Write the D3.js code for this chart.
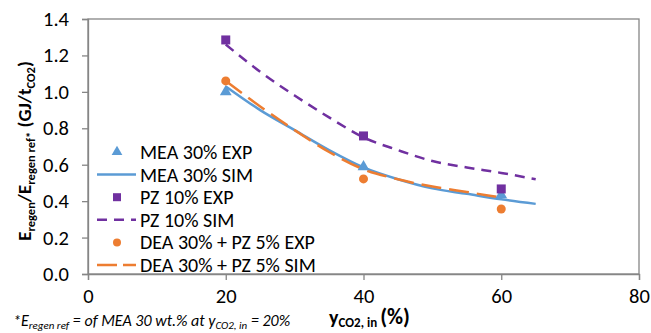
<!DOCTYPE html>
<html>
<head>
<meta charset="utf-8">
<script src="https://cdn.jsdelivr.net/npm/d3@7"></script>
<style>
  body { margin: 0; background: #fff; }
  svg { font-family: Carlito, Lato, sans-serif; }
</style>
</head>
<body>
<div id="chart"></div>
<script>
const width = 651;
const height = 333;

// data
const xTicks = [0, 20, 40, 60, 80];
const yTicks = [0, 0.2, 0.4, 0.6, 0.8, 1.0, 1.2, 1.4];

const meaExp = [[20, 1.0], [40, 0.588], [60, 0.434]];
const meaSim = [[20, 1.03], [25, 0.9], [30, 0.79], [35, 0.68], [40, 0.585], [45, 0.52], [50, 0.47], [55, 0.44], [60, 0.41], [65, 0.385]];
const pzExp = [[20, 1.285], [40, 0.758], [60, 0.467]];
const pzSim = [[20, 1.26], [25, 1.11], [30, 0.98], [35, 0.86], [40, 0.75], [45, 0.68], [50, 0.62], [55, 0.585], [60, 0.555], [65, 0.52]];
const deaExp = [[20, 1.06], [40, 0.522], [60, 0.357]];
const deaSim = [[20, 1.06], [25, 0.92], [30, 0.79], [35, 0.67], [40, 0.575], [45, 0.52], [50, 0.48], [55, 0.45], [60, 0.42]];

const blue = "#5b9bd5", purple = "#7030a0", orange = "#ed7d31", grey = "#868686";

const margin = {top: 19, right: 12, bottom: 59, left: 88};

const svg = d3.select("#chart").append("svg")
    .attr("width", width)
    .attr("height", height);

const x = d3.scaleLinear().domain([0, 80]).range([margin.left, width - margin.right]);
const y = d3.scaleLinear().domain([0, 1.4]).range([height - margin.bottom, margin.top]);

// frame
svg.append("rect")
    .attr("x", x(0)).attr("y", y(1.4))
    .attr("width", x(80) - x(0)).attr("height", y(0) - y(1.4))
    .attr("fill", "none").attr("stroke", grey).attr("stroke-width", 1.3);

// axes
const yAxis = svg.append("g")
    .attr("transform", `translate(${x(0)},0)`)
    .call(d3.axisLeft(y).tickValues(yTicks).tickFormat(d3.format(".1f")).tickSize(6).tickPadding(13));
const xAxis = svg.append("g")
    .attr("transform", `translate(0,${y(0)})`)
    .call(d3.axisBottom(x).tickValues(xTicks).tickSize(6).tickPadding(8));

[xAxis, yAxis].forEach(g => {
    g.select(".domain").attr("stroke", grey).attr("stroke-width", 1.3);
    g.selectAll(".tick line").attr("stroke", grey).attr("stroke-width", 1.3);
    g.selectAll(".tick text").attr("fill", "#000").style("font-size", "20.5px")
        .style("font-family", "Carlito, Lato, sans-serif");
});

// lines
const line = d3.line().x(d => x(d[0])).y(d => y(d[1])).curve(d3.curveMonotoneX);

svg.append("path").datum(meaSim).attr("d", line)
    .attr("fill", "none").attr("stroke", blue).attr("stroke-width", 2.5);
svg.append("path").datum(pzSim).attr("d", line)
    .attr("fill", "none").attr("stroke", purple).attr("stroke-width", 2.5)
    .attr("stroke-dasharray", "10,7");
svg.append("path").datum(deaSim).attr("d", line)
    .attr("fill", "none").attr("stroke", orange).attr("stroke-width", 2.5)
    .attr("stroke-dasharray", "20,8");

// markers
const tri = d3.symbol().type(d3.symbolTriangle).size(60);
svg.selectAll(".mea").data(meaExp).enter().append("path")
    .attr("transform", d => `translate(${x(d[0])},${y(d[1])})`)
    .attr("d", tri).attr("fill", blue);
svg.selectAll(".pz").data(pzExp).enter().append("rect")
    .attr("x", d => x(d[0]) - 4.5).attr("y", d => y(d[1]) - 4.5)
    .attr("width", 9).attr("height", 9).attr("fill", purple);
svg.selectAll(".dea").data(deaExp).enter().append("circle")
    .attr("cx", d => x(d[0])).attr("cy", d => y(d[1]))
    .attr("r", 4.5).attr("fill", orange);

// legend
const legendItems = [
    {label: "MEA 30% EXP", kind: "tri", color: blue},
    {label: "MEA 30% SIM", kind: "line", color: blue, dash: null},
    {label: "PZ 10% EXP", kind: "sq", color: purple},
    {label: "PZ 10% SIM", kind: "line", color: purple, dash: "10,7"},
    {label: "DEA 30% + PZ 5% EXP", kind: "circ", color: orange},
    {label: "DEA 30% + PZ 5% SIM", kind: "line", color: orange, dash: "20,6"}
];
const legend = svg.append("g").attr("transform", "translate(97,152)");
legendItems.forEach((d, i) => {
    const g = legend.append("g").attr("transform", `translate(0,${i * 22.6})`);
    if (d.kind === "line") {
        g.append("line").attr("x1", 0).attr("x2", 39).attr("y1", 0).attr("y2", 0)
            .attr("stroke", d.color).attr("stroke-width", 2.5)
            .attr("stroke-dasharray", d.dash);
    } else if (d.kind === "tri") {
        g.append("path").attr("transform", "translate(20,0)")
            .attr("d", d3.symbol().type(d3.symbolTriangle).size(50)).attr("fill", d.color);
    } else if (d.kind === "sq") {
        g.append("rect").attr("x", 16).attr("y", -4).attr("width", 8).attr("height", 8).attr("fill", d.color);
    } else {
        g.append("circle").attr("cx", 20).attr("r", 4).attr("fill", d.color);
    }
    g.append("text").attr("x", 43).attr("y", 7)
        .style("font-size", "20px").text(d.label);
});

// y axis title
const yt = svg.append("text")
    .attr("transform", "translate(31,151) rotate(-90)")
    .attr("text-anchor", "middle")
    .style("font-size", "19px").style("font-weight", "bold");
yt.append("tspan").text("E");
yt.append("tspan").attr("dy", 4).style("font-size", "12.5px").text("regen");
yt.append("tspan").attr("dy", -4).text("/E");
yt.append("tspan").attr("dy", 4).style("font-size", "12.5px").text("regen ref*");
yt.append("tspan").attr("dy", -4).text(" (GJ/t");
yt.append("tspan").attr("dy", 4).style("font-size", "12.5px").text("CO2");
yt.append("tspan").attr("dy", -4).text(")");

// x axis title
const xt = svg.append("text")
    .attr("x", 329).attr("y", 324)
    .style("font-size", "20px").style("font-weight", "bold");
xt.append("tspan").text("y");
xt.append("tspan").attr("dy", 3).style("font-size", "13px").text("CO2, in");
xt.append("tspan").attr("dx", 3).attr("dy", -3).style("font-size", "22px").text("(%)");

// footnote
const fn = svg.append("text")
    .attr("x", 13).attr("y", 326)
    .style("font-size", "16px").style("font-style", "italic");
fn.append("tspan").text("*E");
fn.append("tspan").attr("dy", 3).style("font-size", "11px").text("regen ref");
fn.append("tspan").attr("dy", -3).text(" = of MEA 30 wt.% at y");
fn.append("tspan").attr("dy", 3).style("font-size", "11px").text("CO2, in");
fn.append("tspan").attr("dy", -3).text(" = 20%");
</script>
</body>
</html>
